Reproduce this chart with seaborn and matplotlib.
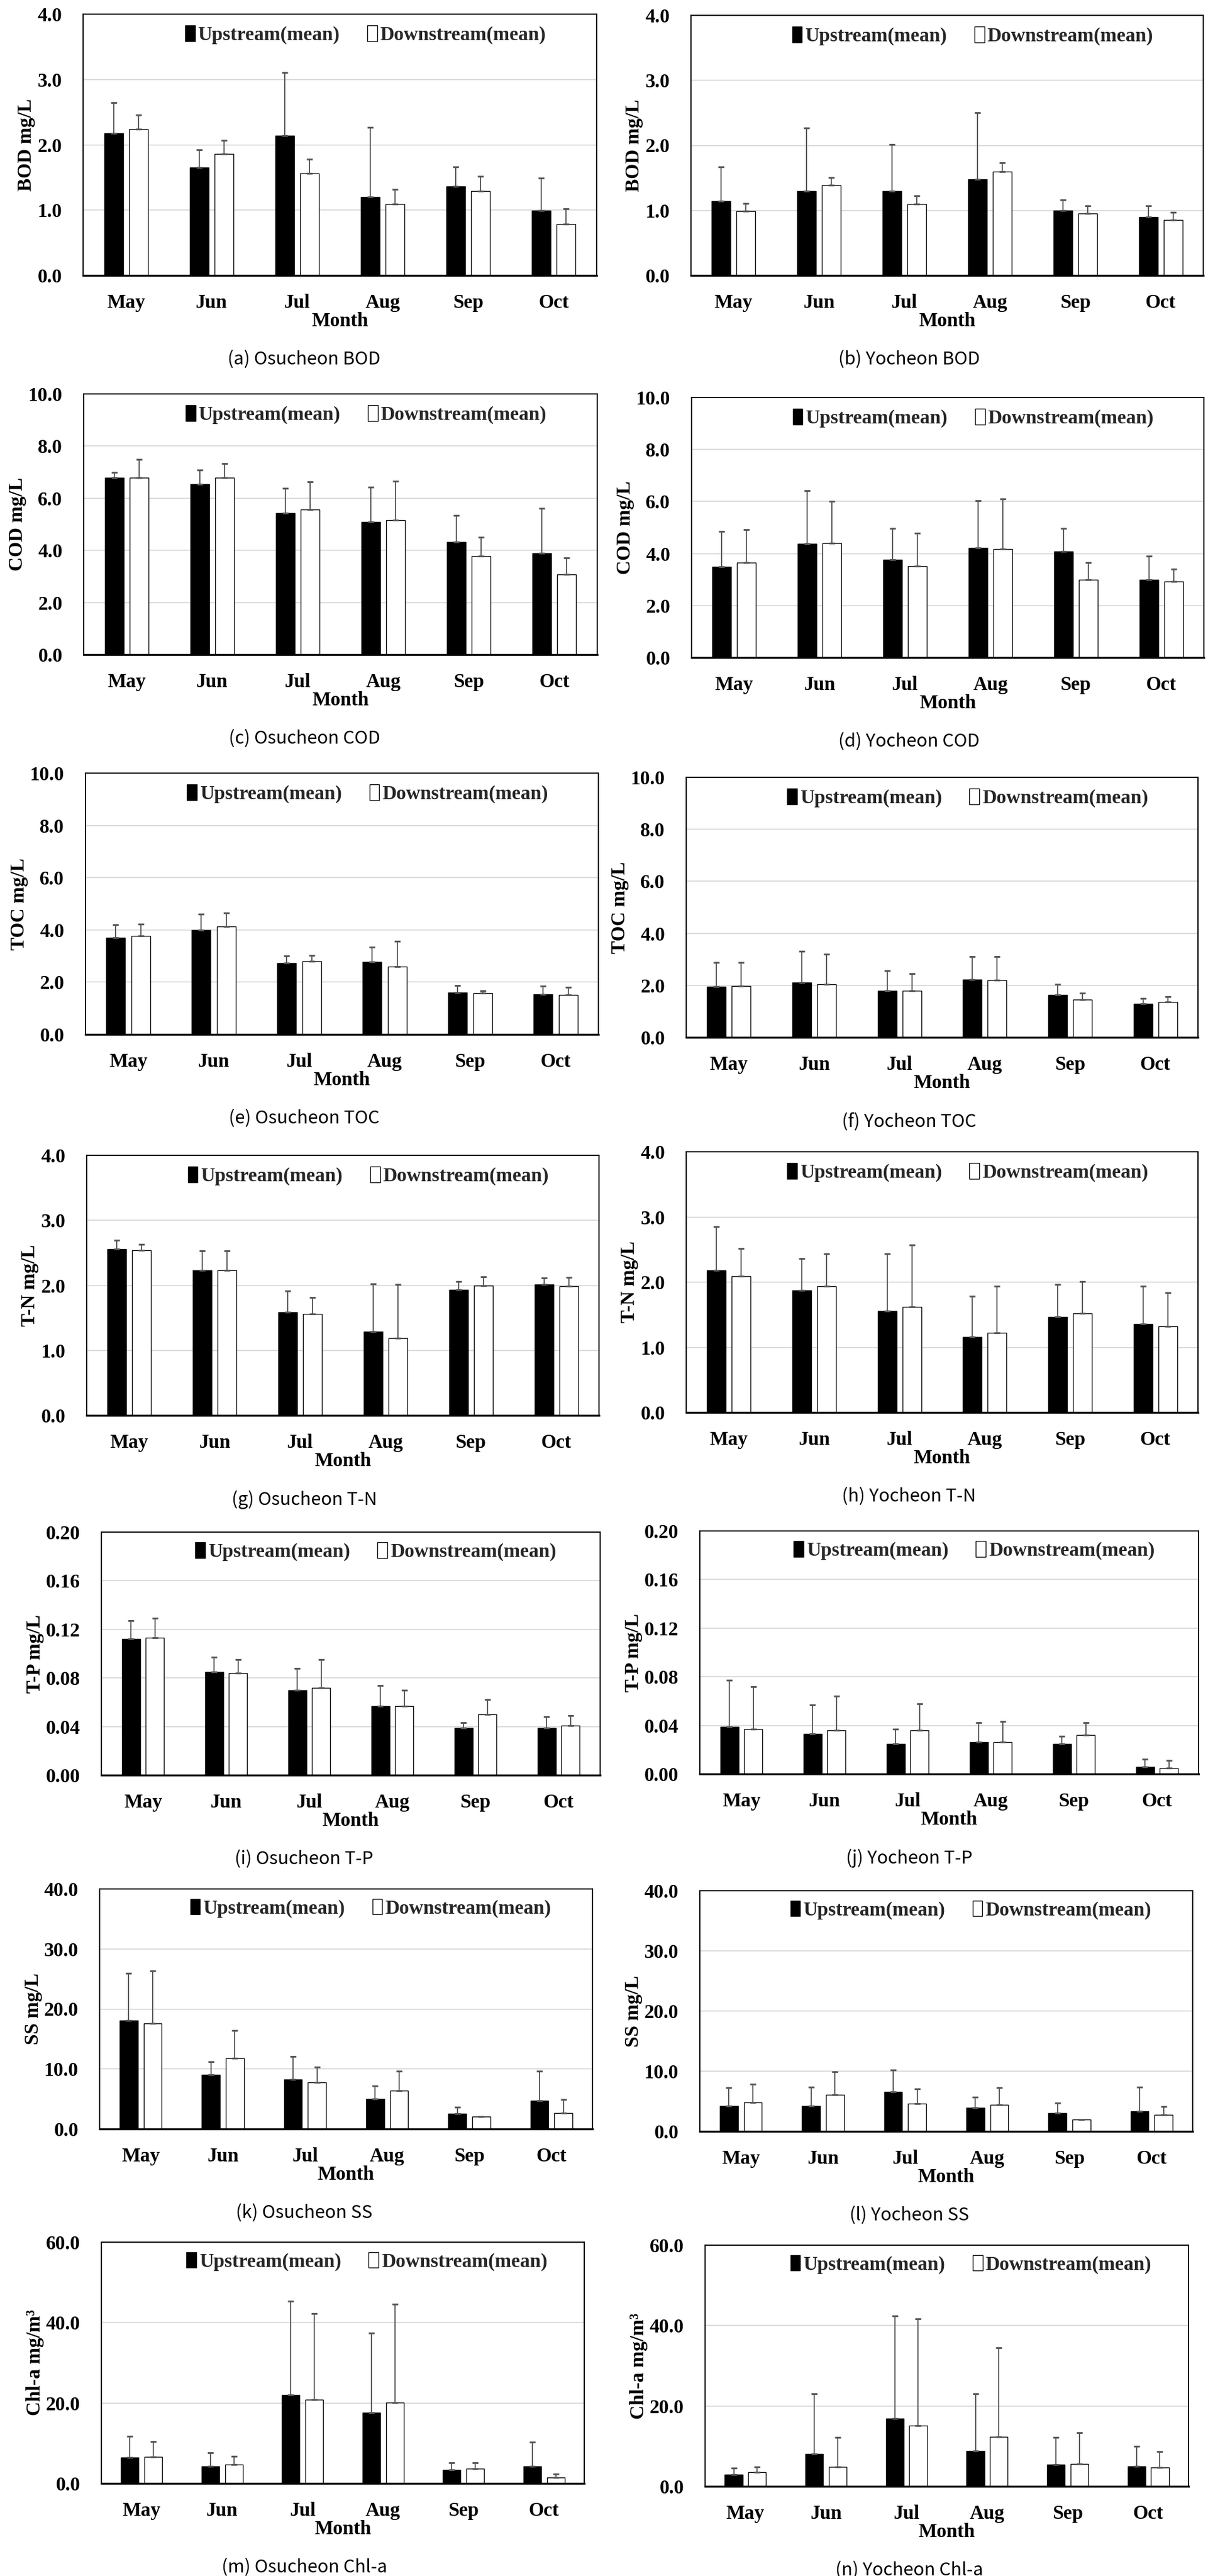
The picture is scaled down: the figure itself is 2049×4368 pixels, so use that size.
import numpy as np
import pandas as pd
import matplotlib
matplotlib.use("Agg")
import matplotlib.pyplot as plt
import matplotlib.ticker as ticker
from matplotlib.patches import Patch
import seaborn as sns

months = ["May", "Jun", "Jul", "Aug", "Sep", "Oct"]
series = ["Upstream(mean)", "Downstream(mean)"]

# BOD
bod_osu_up = [2.18, 1.65, 2.14, 1.20, 1.36, 0.99]
bod_osu_up_sd = [0.47, 0.27, 0.97, 1.07, 0.30, 0.50]
bod_osu_dn = [2.24, 1.86, 1.56, 1.09, 1.29, 0.79]
bod_osu_dn_sd = [0.22, 0.21, 0.22, 0.23, 0.23, 0.23]
bod_yoc_up = [1.14, 1.30, 1.30, 1.48, 1.00, 0.90]
bod_yoc_up_sd = [0.53, 0.97, 0.71, 1.02, 0.16, 0.17]
bod_yoc_dn = [0.99, 1.39, 1.10, 1.60, 0.95, 0.85]
bod_yoc_dn_sd = [0.12, 0.12, 0.12, 0.13, 0.12, 0.12]

# COD
cod_osu_up = [6.79, 6.53, 5.44, 5.10, 4.31, 3.90]
cod_osu_up_sd = [0.20, 0.55, 0.93, 1.33, 1.02, 1.71]
cod_osu_dn = [6.79, 6.79, 5.56, 5.16, 3.78, 3.08]
cod_osu_dn_sd = [0.71, 0.54, 1.06, 1.50, 0.72, 0.62]
cod_yoc_up = [3.49, 4.37, 3.77, 4.21, 4.09, 2.99]
cod_yoc_up_sd = [1.37, 2.05, 1.20, 1.83, 0.88, 0.92]
cod_yoc_dn = [3.64, 4.39, 3.52, 4.17, 2.99, 2.92]
cod_yoc_dn_sd = [1.28, 1.62, 1.27, 1.92, 0.67, 0.49]

# TOC
toc_osu_up = [3.71, 3.99, 2.74, 2.77, 1.61, 1.54]
toc_osu_up_sd = [0.48, 0.61, 0.27, 0.58, 0.26, 0.30]
toc_osu_dn = [3.76, 4.14, 2.80, 2.60, 1.57, 1.51]
toc_osu_dn_sd = [0.46, 0.52, 0.23, 0.97, 0.11, 0.29]
toc_yoc_up = [1.95, 2.10, 1.79, 2.23, 1.63, 1.30]
toc_yoc_up_sd = [0.94, 1.21, 0.77, 0.87, 0.40, 0.19]
toc_yoc_dn = [1.98, 2.04, 1.79, 2.20, 1.44, 1.35]
toc_yoc_dn_sd = [0.91, 1.15, 0.65, 0.90, 0.27, 0.21]

# T-N
tn_osu_up = [2.56, 2.23, 1.59, 1.29, 1.93, 2.01]
tn_osu_up_sd = [0.13, 0.30, 0.32, 0.73, 0.13, 0.10]
tn_osu_dn = [2.54, 2.23, 1.56, 1.19, 2.00, 1.99]
tn_osu_dn_sd = [0.09, 0.30, 0.25, 0.82, 0.13, 0.13]
tn_yoc_up = [2.18, 1.87, 1.56, 1.16, 1.47, 1.36]
tn_yoc_up_sd = [0.67, 0.49, 0.87, 0.62, 0.49, 0.58]
tn_yoc_dn = [2.09, 1.94, 1.62, 1.22, 1.52, 1.32]
tn_yoc_dn_sd = [0.43, 0.49, 0.95, 0.72, 0.49, 0.52]

# T-P
tp_osu_up = [0.112, 0.085, 0.070, 0.057, 0.039, 0.039]
tp_osu_up_sd = [0.015, 0.012, 0.018, 0.017, 0.004, 0.009]
tp_osu_dn = [0.113, 0.084, 0.072, 0.057, 0.050, 0.041]
tp_osu_dn_sd = [0.016, 0.011, 0.023, 0.013, 0.012, 0.008]
tp_yoc_up = [0.039, 0.033, 0.025, 0.026, 0.025, 0.006]
tp_yoc_up_sd = [0.038, 0.024, 0.012, 0.016, 0.006, 0.006]
tp_yoc_dn = [0.037, 0.036, 0.036, 0.026, 0.032, 0.005]
tp_yoc_dn_sd = [0.035, 0.028, 0.022, 0.017, 0.010, 0.006]

# SS
ss_osu_up = [18.1, 9.0, 8.3, 5.0, 2.6, 4.7]
ss_osu_up_sd = [7.8, 2.2, 3.8, 2.2, 1.0, 4.9]
ss_osu_dn = [17.6, 11.8, 7.8, 6.4, 2.1, 2.7]
ss_osu_dn_sd = [8.7, 4.6, 2.5, 3.2, 0.0, 2.2]
ss_yoc_up = [4.2, 4.2, 6.6, 3.9, 3.0, 3.3]
ss_yoc_up_sd = [3.1, 3.2, 3.6, 1.8, 1.7, 4.1]
ss_yoc_dn = [4.8, 6.1, 4.6, 4.4, 2.0, 2.7]
ss_yoc_dn_sd = [3.0, 3.8, 2.5, 2.9, 0.0, 1.4]

# Chl-a
chl_osu_up = [6.4, 4.2, 22.0, 17.6, 3.4, 4.2]
chl_osu_up_sd = [5.4, 3.5, 23.3, 19.8, 1.8, 6.1]
chl_osu_dn = [6.6, 4.7, 20.9, 20.1, 3.6, 1.5]
chl_osu_dn_sd = [3.8, 2.1, 21.3, 24.5, 1.6, 0.9]
chl_yoc_up = [3.0, 8.0, 16.9, 8.8, 5.4, 5.0]
chl_yoc_up_sd = [1.6, 15.0, 25.5, 14.2, 6.8, 5.0]
chl_yoc_dn = [3.5, 4.8, 15.1, 12.3, 5.6, 4.7]
chl_yoc_dn_sd = [1.4, 7.4, 26.5, 22.2, 7.8, 4.0]

sns.set_theme(style="white")
plt.rcParams["font.family"] = ["Liberation Serif", "DejaVu Serif"]
plt.rcParams["font.weight"] = "bold"

W, H = 2049, 4368
fig = plt.figure(figsize=(W / 100, H / 100), dpi=100)

# (caption, ylabel, ymax, step, fmt, up, up_sd, dn, dn_sd, box px: left, top, right, bottom, caption x)
panels = [
    ("(a) Osucheon BOD", "BOD mg/L", 4, 1, "%.1f", bod_osu_up, bod_osu_up_sd, bod_osu_dn, bod_osu_dn_sd, (141, 24, 1012, 467), 516),
    ("(b) Yocheon BOD", "BOD mg/L", 4, 1, "%.1f", bod_yoc_up, bod_yoc_up_sd, bod_yoc_dn, bod_yoc_dn_sd, (1172, 26, 2041, 467), 1542),
    ("(c) Osucheon COD", "COD mg/L", 10, 2, "%.1f", cod_osu_up, cod_osu_up_sd, cod_osu_dn, cod_osu_dn_sd, (142, 668, 1013, 1110), 516),
    ("(d) Yocheon COD", "COD mg/L", 10, 2, "%.1f", cod_yoc_up, cod_yoc_up_sd, cod_yoc_dn, cod_yoc_dn_sd, (1173, 674, 2042, 1115), 1542),
    ("(e) Osucheon TOC", "TOC mg/L", 10, 2, "%.1f", toc_osu_up, toc_osu_up_sd, toc_osu_dn, toc_osu_dn_sd, (145, 1311, 1015, 1754), 516),
    ("(f) Yocheon TOC", "TOC mg/L", 10, 2, "%.1f", toc_yoc_up, toc_yoc_up_sd, toc_yoc_dn, toc_yoc_dn_sd, (1164, 1318, 2032, 1759), 1542),
    ("(g) Osucheon T-N", "T-N mg/L", 4, 1, "%.1f", tn_osu_up, tn_osu_up_sd, tn_osu_dn, tn_osu_dn_sd, (147, 1959, 1016, 2400), 516),
    ("(h) Yocheon T-N", "T-N mg/L", 4, 1, "%.1f", tn_yoc_up, tn_yoc_up_sd, tn_yoc_dn, tn_yoc_dn_sd, (1164, 1953, 2032, 2395), 1542),
    ("(i) Osucheon T-P", "T-P mg/L", 0.2, 0.04, "%.2f", tp_osu_up, tp_osu_up_sd, tp_osu_dn, tp_osu_dn_sd, (172, 2598, 1018, 3010), 516),
    ("(j) Yocheon T-P", "T-P mg/L", 0.2, 0.04, "%.2f", tp_yoc_up, tp_yoc_up_sd, tp_yoc_dn, tp_yoc_dn_sd, (1187, 2596, 2033, 3008), 1542),
    ("(k) Osucheon SS", "SS mg/L", 40, 10, "%.1f", ss_osu_up, ss_osu_up_sd, ss_osu_dn, ss_osu_dn_sd, (169, 3203, 1005, 3610), 516),
    ("(l) Yocheon SS", "SS mg/L", 40, 10, "%.1f", ss_yoc_up, ss_yoc_up_sd, ss_yoc_dn, ss_yoc_dn_sd, (1187, 3206, 2023, 3614), 1542),
    ("(m) Osucheon Chl-a", "Chl-a mg/m³", 60, 20, "%.1f", chl_osu_up, chl_osu_up_sd, chl_osu_dn, chl_osu_dn_sd, (172, 3802, 991, 4211), 516),
    ("(n) Yocheon Chl-a", "Chl-a mg/m³", 60, 20, "%.1f", chl_yoc_up, chl_yoc_up_sd, chl_yoc_dn, chl_yoc_dn_sd, (1196, 3807, 2016, 4216), 1542),
]

handles = [Patch(facecolor="black", edgecolor="black", lw=1),
           Patch(facecolor="white", edgecolor="black", lw=1)]

for cap, ylab, ymax, step, fmt, up, up_sd, dn, dn_sd, box, cx in panels:
    l, t, r, b = box
    ax = fig.add_axes([l / W, 1 - b / H, (r - l) / W, (b - t) / H])
    df = pd.DataFrame({
        "Month": months * 2,
        "Site": [series[0]] * 6 + [series[1]] * 6,
        "Value": up + dn,
    })
    sns.barplot(data=df, x="Month", y="Value", hue="Site", hue_order=series,
                palette=["black", "white"], width=0.58, gap=0.24,
                edgecolor="black", linewidth=1.0, errorbar=None,
                legend=False, ax=ax, zorder=2)
    for cont, sd in zip(ax.containers, [up_sd, dn_sd]):
        xs = [p.get_x() + p.get_width() / 2 for p in cont]
        hs = [p.get_height() for p in cont]
        ax.errorbar(xs, hs, yerr=[np.zeros(len(sd)), sd], fmt="none",
                    ecolor="#595959", elinewidth=1.4, capsize=3.5,
                    capthick=2.2, zorder=3)

    ax.set_xlim(-0.5, 5.5)
    ax.set_ylim(0, ymax)
    ax.set_yticks(np.arange(0, ymax + step / 2, step))
    ax.yaxis.set_major_formatter(ticker.FormatStrFormatter(fmt))
    ax.set_axisbelow(True)
    ax.yaxis.grid(True, color="#d9d9d9", lw=1.3)
    ax.xaxis.grid(False)
    for side in ["top", "left", "right"]:
        ax.spines[side].set_color("black")
        ax.spines[side].set_linewidth(1.5)
    ax.spines["bottom"].set_color("black")
    ax.spines["bottom"].set_linewidth(2.4)
    ax.tick_params(axis="both", length=0, labelsize=24, colors="black")
    ax.tick_params(axis="x", pad=22)
    ax.tick_params(axis="y", pad=26)
    ax.set_xlabel("Month", fontsize=24, fontweight="bold", labelpad=0, color="black")
    ax.set_ylabel(ylab, fontsize=24, fontweight="bold", labelpad=2, color="black")

    ax.legend(handles, series, loc="center", bbox_to_anchor=(0.55, 0.92),
              ncol=2, frameon=False, fontsize=24, handlelength=0.5,
              handleheight=0.85, handletextpad=0.15, columnspacing=1.4,
              borderaxespad=0)

    fig.text(cx / W, 1 - (b + 143) / H, cap, ha="center", va="center",
             fontsize=22, fontweight="normal", color="black",
             family=["Noto Sans CJK KR", "DejaVu Sans"])

fig.savefig("out.png", dpi=100, facecolor="white")
